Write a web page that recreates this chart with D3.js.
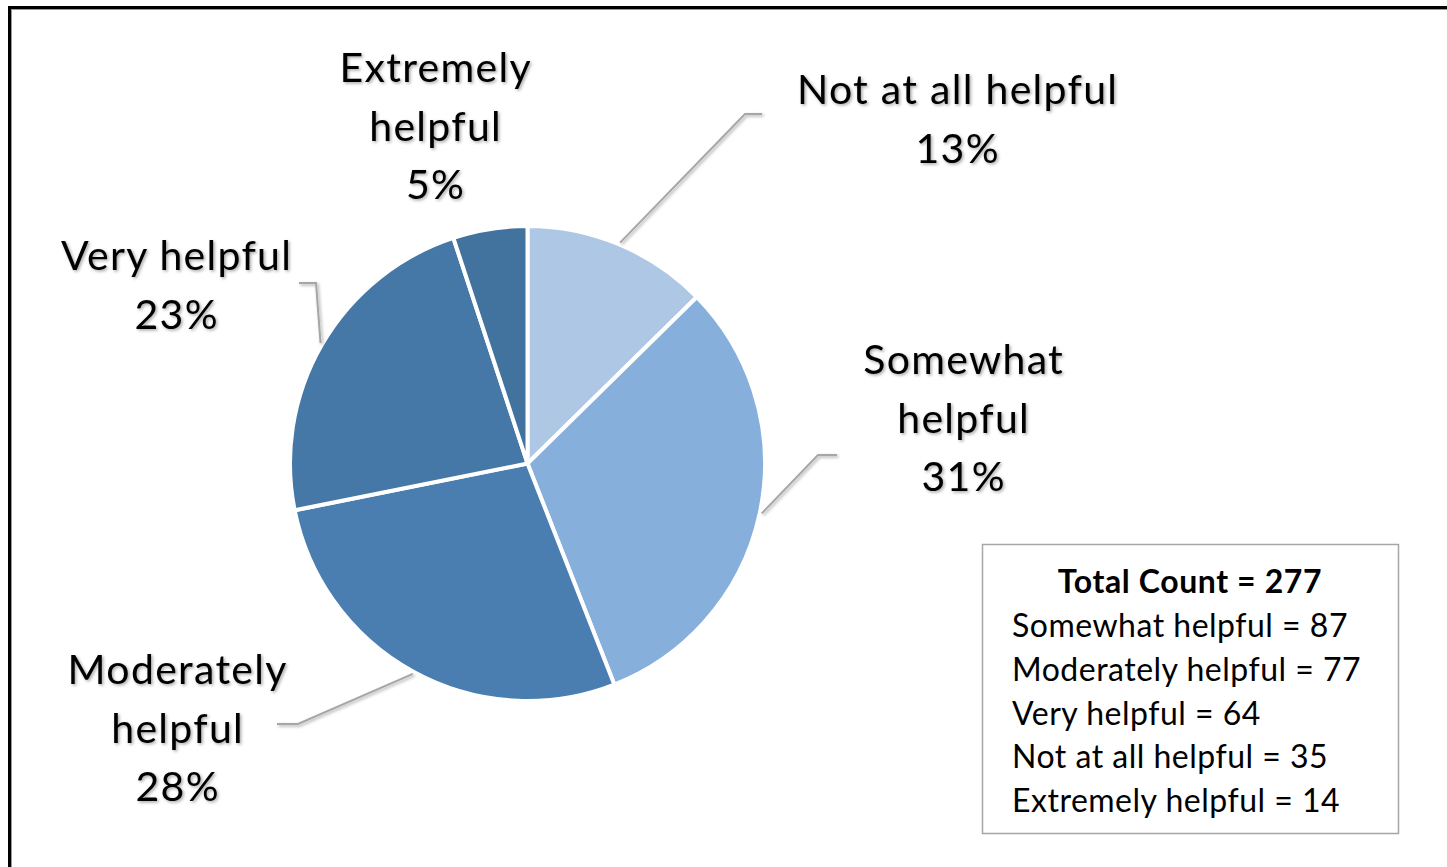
<!DOCTYPE html>
<html>
<head>
<meta charset="utf-8">
<script src="https://cdn.jsdelivr.net/npm/d3@7"></script>
<style>
  html, body { margin: 0; padding: 0; background: #fff; }
  svg { display: block; }
</style>
</head>
<body>
<svg id="chart" width="1447" height="867"></svg>
<script>
// Survey responses, in pie order (clockwise from 12 o'clock)
const categories = ["Not at all helpful", "Somewhat helpful", "Moderately helpful", "Very helpful", "Extremely helpful"];
const counts = [35, 87, 77, 64, 14];
const percentLabels = ["13%", "31%", "28%", "23%", "5%"];
const sliceColors = ["#aec7e5", "#86afdb", "#4a7eb1", "#4678a7", "#42729e"];

// Summary box lines (ordered by count)
const boxTitle = "Total Count = 277";
const boxCategories = ["Somewhat helpful", "Moderately helpful", "Very helpful", "Not at all helpful", "Extremely helpful"];
const boxCounts = [87, 77, 64, 35, 14];

const svg = d3.select("#chart");
const FONT = "Lato, 'Open Sans', sans-serif";

// Outer frame
svg.append("rect")
  .attr("x", 9.5).attr("y", 7.5)
  .attr("width", 1500).attr("height", 1000)
  .attr("fill", "none").attr("stroke", "#000").attr("stroke-width", 3);
svg.append("rect")
  .attr("x", 11.5).attr("y", 9.5)
  .attr("width", 1500).attr("height", 1000)
  .attr("fill", "none").attr("stroke", "#9a9a9a").attr("stroke-width", 1);

// Soft drop shadow used for labels and leader lines
const defs = svg.append("defs");
const f = defs.append("filter").attr("id", "shadow")
  .attr("x", "-20%").attr("y", "-20%").attr("width", "140%").attr("height", "140%");
f.append("feDropShadow")
  .attr("dx", 1.5).attr("dy", 1.5).attr("stdDeviation", 1.4)
  .attr("flood-color", "#000").attr("flood-opacity", 0.35);

// Pie
const cx = 527.5, cy = 463.5, radius = 237.5;
const pie = d3.pie().sort(null).value(d => d)(counts);
const arc = d3.arc().innerRadius(0).outerRadius(radius);

const g = svg.append("g").attr("transform", `translate(${cx},${cy})`);
g.selectAll("path.slice")
  .data(pie)
  .join("path")
  .attr("class", "slice")
  .attr("d", arc)
  .attr("fill", (d, i) => sliceColors[i])
  .attr("stroke", "#fff")
  .attr("stroke-width", 4)
  .attr("stroke-linejoin", "round");

// Label layout: centre x, first baseline, text lines, leader elbow (optional)
const lineGap = 58.5;
const labelLayout = [
  { x: 957, y: 104, lines: ["Not at all helpful"], elbow: [[745, 114], [762, 114]] },
  { x: 963, y: 374, lines: ["Somewhat", "helpful"], elbow: [[818, 455], [837, 455]] },
  { x: 177, y: 684, lines: ["Moderately", "helpful"], elbow: [[298, 724], [277, 724]] },
  { x: 176, y: 270, lines: ["Very helpful"], elbow: [[316, 283], [299, 283]] },
  { x: 435, y: 82, lines: ["Extremely", "helpful"], elbow: null }
];

const leaderArc = d3.arc().innerRadius(radius + 2).outerRadius(radius + 2);
pie.forEach((d, i) => {
  const L = labelLayout[i];
  if (L.elbow) {
    const [sx, sy] = leaderArc.centroid(d);
    const pts = [[cx + sx, cy + sy], ...L.elbow];
    svg.append("path")
      .attr("d", d3.line()(pts))
      .attr("fill", "none")
      .attr("stroke", "#a6a6a6")
      .attr("stroke-width", 2)
      .attr("filter", "url(#shadow)");
  }
  const t = svg.append("text")
    .attr("text-anchor", "middle")
    .attr("font-family", FONT)
    .attr("font-size", 41)
    .attr("letter-spacing", 1.3)
    .attr("fill", "#000")
    .attr("filter", "url(#shadow)");
  const allLines = [...L.lines, percentLabels[i]];
  allLines.forEach((s, k) => {
    t.append("tspan").attr("x", L.x + 0.65).attr("y", L.y + k * lineGap).text(s);
  });
});

// Summary box
svg.append("rect")
  .attr("x", 982.5).attr("y", 544.5)
  .attr("width", 416).attr("height", 289)
  .attr("fill", "#fff").attr("stroke", "#a6a6a6").attr("stroke-width", 1.5);

svg.append("text")
  .attr("x", 1190).attr("y", 593)
  .attr("text-anchor", "middle")
  .attr("font-family", FONT).attr("font-weight", "bold")
  .attr("font-size", 32).attr("letter-spacing", 0.6).attr("fill", "#000")
  .text(boxTitle);

svg.selectAll("text.boxline")
  .data(boxCategories)
  .join("text")
  .attr("class", "boxline")
  .attr("x", 1012)
  .attr("y", (d, i) => 637 + i * 43.8)
  .attr("font-family", FONT)
  .attr("font-size", 32)
  .attr("letter-spacing", 0.5)
  .attr("fill", "#000")
  .text((d, i) => `${d} = ${boxCounts[i]}`);
</script>
</body>
</html>
